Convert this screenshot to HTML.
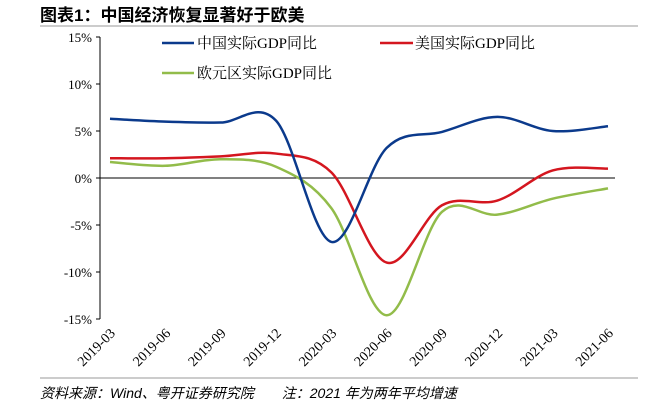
<!DOCTYPE html>
<html><head><meta charset="utf-8"><style>
body{margin:0;background:#fff;width:649px;height:416px;overflow:hidden}
svg{display:block}
</style></head><body>
<svg id="chart" width="649" height="416" font-family="'Liberation Serif','Noto Serif CJK SC',serif">
<text x="40" y="21" font-family="'Liberation Sans','Noto Sans CJK SC',sans-serif" font-weight="bold" font-size="17" fill="#000">图表1：中国经济恢复显著好于欧美</text>
<line x1="40" y1="26" x2="638" y2="26" stroke="#bbb" stroke-width="1.5"/>
<line x1="40" y1="378" x2="638" y2="378" stroke="#bbb" stroke-width="1.5"/>
<text x="40" y="398" font-family="'Liberation Sans','Noto Sans CJK SC',sans-serif" font-style="italic" font-size="14" fill="#000">资料来源：Wind、粤开证券研究院　　注：2021 年为两年平均增速</text>
<g id="axes"></g><g id="series"></g>
<g font-size="15">
<line x1="162" y1="43" x2="194" y2="43" stroke="#0b3a8c" stroke-width="2.5"/>
<text x="197" y="48">中国实际GDP同比</text>
<line x1="380" y1="43" x2="413" y2="43" stroke="#d4161f" stroke-width="2.5"/>
<text x="415" y="48">美国实际GDP同比</text>
<line x1="162" y1="73" x2="194" y2="73" stroke="#92bc4a" stroke-width="2.5"/>
<text x="197" y="78">欧元区实际GDP同比</text>
</g>
</svg>
<script>
const categories=["2019-03","2019-06","2019-09","2019-12","2020-03","2020-06","2020-09","2020-12","2021-03","2021-06"];
const chinaValues=[6.3,6.0,5.9,6.1,-6.8,3.2,4.9,6.5,5.0,5.5];
const usValues=[2.1,2.1,2.3,2.6,0.6,-9.0,-2.9,-2.4,0.8,1.0];
const euValues=[1.7,1.3,2.0,1.2,-3.2,-14.6,-3.6,-3.9,-2.2,-1.1];
const yTicks=[15,10,5,0,-5,-10,-15];
const NS='http://www.w3.org/2000/svg';
const x0=110,x1=608,yTop=37,yBot=319,vMax=15,vMin=-15;
const xs=i=>x0+i*(x1-x0)/(categories.length-1);
const ys=v=>yTop+(vMax-v)/(vMax-vMin)*(yBot-yTop);
const axes=document.getElementById('axes'),ser=document.getElementById('series');
function mk(t,a,p){const e=document.createElementNS(NS,t);for(const k in a)e.setAttribute(k,a[k]);p.appendChild(e);return e;}
const yl=mk('line',{x1:100,y1:yTop,x2:100,y2:yBot,stroke:'#000','stroke-width':1},axes);


yTicks.forEach(v=>{
 const t=mk('line',{x1:96,y1:ys(v),x2:100,y2:ys(v),stroke:'#000'},axes);
 
 
 const l=mk('text',{x:92,y:ys(v)+5,'text-anchor':'end','font-size':13},axes);
 l.textContent=v+'%';
 
 
});
const zl=mk('line',{x1:100,y1:ys(0),x2:615,y2:ys(0),stroke:'#000'},axes);


categories.forEach((c,i)=>{
 const x=xs(i)+6,y=334;
 const l=mk('text',{x:x,y:y,'text-anchor':'end','font-size':14,transform:`rotate(-45 ${x} ${y})`},axes);
 l.textContent=c;
 
 
});
function path(vals){
 const p=vals.map((v,i)=>[xs(i),ys(v)]);
 let d=`M${p[0][0]},${p[0][1]}`;
 for(let i=0;i<p.length-1;i++){
  const a=p[i-1]||p[i],b=p[i],c=p[i+1],e=p[i+2]||c;
  const k=1/6;
  d+=` C${b[0]+(c[0]-a[0])*k},${b[1]+(c[1]-a[1])*k} ${c[0]-(e[0]-b[0])*k},${c[1]-(e[1]-b[1])*k} ${c[0]},${c[1]}`;
 }
 return d;
}
[[euValues,'#92bc4a','eu-line'],[usValues,'#d4161f','us-line'],[chinaValues,'#0b3a8c','china-line']].forEach(s=>{
 const e=mk('path',{d:path(s[0]),fill:'none',stroke:s[1],'stroke-width':2.5},ser);
 
 
});
</script>
</body></html>
